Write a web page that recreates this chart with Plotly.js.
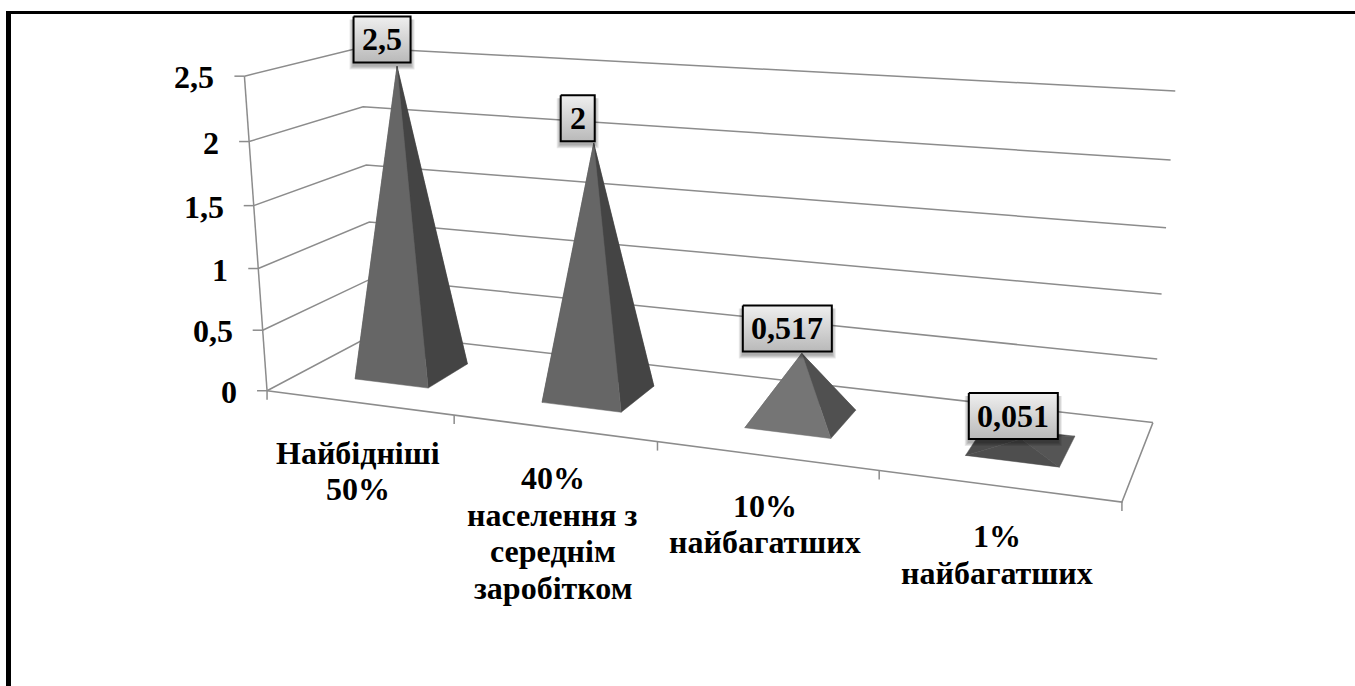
<!DOCTYPE html>
<html><head><meta charset="utf-8">
<script src="https://cdn.plot.ly/plotly-3.0.0.min.js"></script>
<style>html,body{margin:0;padding:0;background:#fff;overflow:hidden}#c{width:1355px;height:686px}</style>
</head><body><div id="c"></div>
<script>
// ---- data ----
const categoryLines = [["Найбідніші","50%"],["40%","населення з","середнім","заробітком"],["10%","найбагатших"],["1%","найбагатших"]];
const values = [2.5, 2, 0.517, 0.051];
const valueLabels = ["2,5","2","0,517","0,051"];
const yTicks = [0, 0.5, 1, 1.5, 2, 2.5];
const yTickLabels = ["0","0,5","1","1,5","2","2,5"];

// ---- styling ----
const FONT = "'Liberation Serif','Times New Roman',serif";
const GRID = "#8c8c8c";
const frontShade = ["#666666","#666666","#757575","#4e4e4e"];
const rightShade = ["#444444","#444444","#505050","#555555"];
const backShade  = ["#555555","#555555","#606060","#4a4a4a"];
const leftShade  = ["#5a5a5a","#5a5a5a","#6a6a6a","#4c4c4c"];
const boxWidths = [57, 34, 89, 89];
const BOX_H = 46;
const boxOffsets = [[-15,-27],[-16,-25],[-14.5,-25],[-8,-23]];
const BASE_W = 0.4, BASE_D = 0.4;

// Camera of the picture: axis frame (category u, value v, depth d) -> page px
const cameraAnchors = [
 [0,0,0,267,392],[1,0,0,454,415.5],[2,0,0,657,442],[3,0,0,879,470],[4,0,0,1122,502],
 [0,.5,0,263,330],[0,1,0,258,268],[0,1.5,0,254,205.5],[0,2,0,249,141],[0,2.5,0,245,76],
 [0,0,1,376,333],[0,.5,1,372,278],[0,1,1,369,222],[0,1.5,1,367,165],[0,2,1,363,107],[0,2.5,1,359,48],
 [4,0,1,1153,422],[4,.5,1,1157,359],[4,1,1,1162,294],[4,1.5,1,1166,228],[4,2,1,1171,160.5],[4,2.5,1,1175,91]
];
function solveCamera(pts){
  const A=[],b=[];
  pts.forEach(([u,v,d,x,y])=>{
    const X=x/1000,Y=y/1000;
    A.push([u,v,d,1,0,0,0,0,-X*u,-X*v,-X*d]);b.push(X);
    A.push([0,0,0,0,u,v,d,1,-Y*u,-Y*v,-Y*d]);b.push(Y);
  });
  const n=11,M=[];
  for(let i=0;i<n;i++){M.push([]);for(let j=0;j<=n;j++){let s=0;
    for(let r=0;r<A.length;r++)s+=A[r][i]*(j<n?A[r][j]:b[r]);M[i].push(s);}}
  for(let i=0;i<n;i++){let p=i;for(let r=i+1;r<n;r++)if(Math.abs(M[r][i])>Math.abs(M[p][i]))p=r;
    [M[i],M[p]]=[M[p],M[i]];
    for(let r=0;r<n;r++){if(r===i)continue;const f=M[r][i]/M[i][i];for(let c=i;c<=n;c++)M[r][c]-=f*M[i][c];}}
  return M.map((row,i)=>row[n]/row[i]);
}
const C=solveCamera(cameraAnchors);
function P(u,v,d){
  const w=C[8]*u+C[9]*v+C[10]*d+1;
  return [1000*(C[0]*u+C[1]*v+C[2]*d+C[3])/w, 1000*(C[4]*u+C[5]*v+C[6]*d+C[7])/w];
}
const traces=[];
function line(pts,width){traces.push({type:"scatter",mode:"lines",x:pts.map(p=>p[0]),y:pts.map(p=>p[1]),
  line:{color:GRID,width:width||1.5},hoverinfo:"skip",showlegend:false});}
function poly(pts,color){const q=pts.concat([pts[0]]);traces.push({type:"scatter",mode:"lines",x:q.map(p=>p[0]),y:q.map(p=>p[1]),
  fill:"toself",fillcolor:color,line:{color:color,width:0.5},hoverinfo:"skip",showlegend:false});}

const N=categoryLines.length;
// gridlines on left and back walls
yTicks.forEach(t=>{
  line([P(0,t,0),P(0,t,1),P(N,t,1)]);
  const a=P(0,t,0); line([[a[0]-10,a[1]],a]);
});
// axis frame
line([P(0,0,0),P(0,yTicks[yTicks.length-1],0)]);
line([P(0,0,0),P(N,0,0),P(N,0,1)]);
for(let i=0;i<=N;i++){const a=P(i,0,0);line([a,[a[0],a[1]+9]]);}

// pyramids
const annotations=[];
values.forEach((val,i)=>{
  const u0=i+.5-BASE_W/2,u1=i+.5+BASE_W/2,d0=.5-BASE_D/2,d1=.5+BASE_D/2;
  const FL=P(u0,0,d0),FR=P(u1,0,d0),BR=P(u1,0,d1),BL=P(u0,0,d1),A=P(i+.5,val,.5);
  poly([BL,BR,A],backShade[i]);
  poly([FL,BL,A],leftShade[i]);
  poly([FR,BR,A],rightShade[i]);
  poly([FL,FR,A],frontShade[i]);
});
// value label boxes
values.forEach((val,i)=>{
  const A=P(i+.5,val,.5),cx=A[0]+boxOffsets[i][0],cy=A[1]+boxOffsets[i][1],hw=boxWidths[i]/2,hh=BOX_H/2;
  for(let k=4;k>=1;k--){
    const g=k, dy=3;
    const xs=[cx-hw-g,cx+hw+g,cx+hw+g,cx-hw-g,cx-hw-g],ys=[cy-hh+dy,cy-hh+dy,cy+hh+dy+g,cy+hh+dy+g,cy-hh+dy];
    traces.push({type:"scatter",mode:"lines",x:xs,y:ys,fill:"toself",fillcolor:"rgba(0,0,0,0.09)",line:{width:0,color:"rgba(0,0,0,0)"},hoverinfo:"skip",showlegend:false});
  }
  traces.push({type:"scatter",mode:"lines",x:[cx-hw,cx+hw,cx+hw,cx-hw,cx-hw],y:[cy-hh,cy-hh,cy+hh,cy+hh,cy-hh],
    fill:"toself",fillgradient:{type:"vertical",colorscale:[[0,"#b9b9b9"],[1,"#efefef"]]},
    line:{color:"#000",width:2},hoverinfo:"skip",showlegend:false});
  annotations.push({x:cx,y:cy,xref:"x",yref:"y",text:"<b>"+valueLabels[i]+"</b>",showarrow:false,
    xanchor:"center",yanchor:"middle",font:{family:FONT,size:32,color:"#000"}});
});
// y tick labels
yTicks.forEach((t,i)=>{
  const a=P(0,t,0);
  annotations.push({x:a[0]-28,y:a[1]+1,xref:"x",yref:"y",text:"<b>"+yTickLabels[i]+"</b>",showarrow:false,
    xanchor:"right",yanchor:"middle",font:{family:FONT,size:32,color:"#000"}});
});
// category labels, one text per line
const LINE_H=36.7, CAT_DY=50;
categoryLines.forEach((lines,i)=>{
  const a=P(i+.5,0,0);
  lines.forEach((s,j)=>annotations.push({x:a[0]-1,y:a[1]+CAT_DY+j*LINE_H,xref:"x",yref:"y",text:"<b>"+s+"</b>",showarrow:false,
    xanchor:"center",yanchor:"middle",font:{family:FONT,size:32,color:"#000"}}));
});
// page frame
const shapes=[
 {type:"rect",xref:"x",yref:"y",x0:6,x1:11,y0:11,y1:686,fillcolor:"#000",line:{width:0},layer:"above"},
 {type:"rect",xref:"x",yref:"y",x0:6,x1:1355,y0:11,y1:14,fillcolor:"#000",line:{width:0},layer:"above"}
];
Plotly.newPlot("c",traces,{
  width:1355,height:686,margin:{l:0,r:0,t:0,b:0},
  paper_bgcolor:"#fff",plot_bgcolor:"#fff",showlegend:false,
  xaxis:{range:[0,1355],visible:false,fixedrange:true},
  yaxis:{range:[686,0],visible:false,fixedrange:true},
  annotations,shapes
},{displayModeBar:false,responsive:false});
</script></body></html>
